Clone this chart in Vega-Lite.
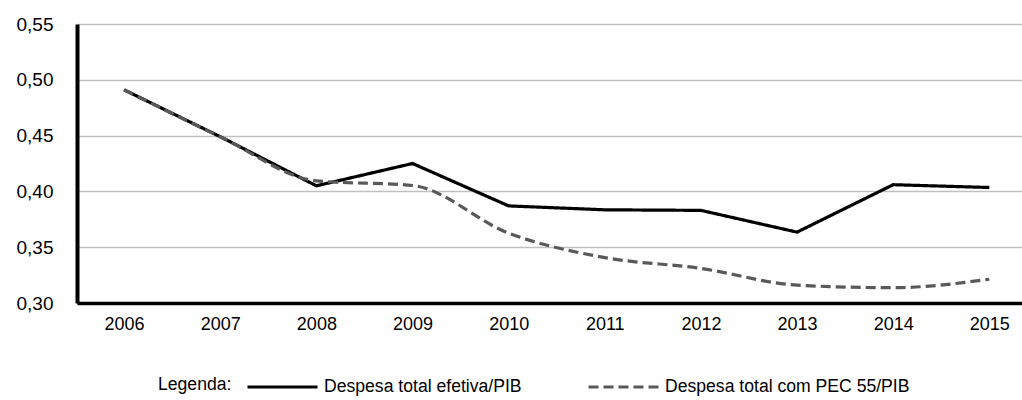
{
  "$schema": "https://vega.github.io/schema/vega-lite/v6.json",
  "width": 945,
  "height": 279,
  "padding": {"left": 77, "top": 24, "right": 0, "bottom": 97},
  "autosize": {"type": "none"},
  "background": "white",
  "config": {
    "view": {"stroke": null},
    "font": "Liberation Sans",
    "axis": {"labelFont": "Liberation Sans", "labelFontSize": 18, "labelColor": "#000000", "ticks": false, "title": null},
    "legend": {"labelFont": "Liberation Sans", "titleFont": "Liberation Sans"}
  },
  "data": {
    "values": [
      {"ano": 2006, "serie": "Despesa total efetiva/PIB", "valor": 0.491},
      {"ano": 2007, "serie": "Despesa total efetiva/PIB", "valor": 0.449},
      {"ano": 2008, "serie": "Despesa total efetiva/PIB", "valor": 0.405},
      {"ano": 2009, "serie": "Despesa total efetiva/PIB", "valor": 0.425},
      {"ano": 2010, "serie": "Despesa total efetiva/PIB", "valor": 0.387},
      {"ano": 2011, "serie": "Despesa total efetiva/PIB", "valor": 0.3835},
      {"ano": 2012, "serie": "Despesa total efetiva/PIB", "valor": 0.383},
      {"ano": 2013, "serie": "Despesa total efetiva/PIB", "valor": 0.3635},
      {"ano": 2014, "serie": "Despesa total efetiva/PIB", "valor": 0.406},
      {"ano": 2015, "serie": "Despesa total efetiva/PIB", "valor": 0.4035},
      {"ano": 2006, "serie": "Despesa total com PEC 55/PIB", "valor": 0.491},
      {"ano": 2007, "serie": "Despesa total com PEC 55/PIB", "valor": 0.449},
      {"ano": 2008, "serie": "Despesa total com PEC 55/PIB", "valor": 0.4095},
      {"ano": 2009, "serie": "Despesa total com PEC 55/PIB", "valor": 0.4053},
      {"ano": 2010, "serie": "Despesa total com PEC 55/PIB", "valor": 0.3626},
      {"ano": 2011, "serie": "Despesa total com PEC 55/PIB", "valor": 0.3407},
      {"ano": 2012, "serie": "Despesa total com PEC 55/PIB", "valor": 0.331},
      {"ano": 2013, "serie": "Despesa total com PEC 55/PIB", "valor": 0.316},
      {"ano": 2014, "serie": "Despesa total com PEC 55/PIB", "valor": 0.3137},
      {"ano": 2015, "serie": "Despesa total com PEC 55/PIB", "valor": 0.3213}
    ]
  },
  "encoding": {
    "x": {
      "field": "ano", "type": "quantitative",
      "scale": {"domain": [2005.51, 2015.34], "nice": false, "zero": false},
      "axis": {"values": [2006, 2007, 2008, 2009, 2010, 2011, 2012, 2013, 2014, 2015], "format": "d", "grid": false, "domainColor": "#000000", "domainWidth": 3.5, "labelPadding": 12, "labelFlush": false, "labelFontSize": 18, "labelFont": "Liberation Sans", "labelColor": "#000000"}
    },
    "y": {
      "field": "valor", "type": "quantitative",
      "scale": {"domain": [0.30, 0.55], "nice": false, "zero": false},
      "axis": {"values": [0.30, 0.35, 0.40, 0.45, 0.50, 0.55], "labelExpr": "replace(format(datum.value, '.2f'), '.', ',')", "grid": true, "gridColor": "#c0c0c0", "gridWidth": 1.5, "domainColor": "#000000", "domainWidth": 4, "labelPadding": 24, "labelFontSize": 19, "labelFont": "Liberation Sans", "labelColor": "#000000"}
    },
    "color": {
      "field": "serie", "type": "nominal",
      "scale": {"domain": ["Despesa total efetiva/PIB", "Despesa total com PEC 55/PIB"], "range": ["#000000", "#595959"]},
      "legend": {
        "title": "Legenda:", "titleOrient": "left", "titleAnchor": "start", "titleBaseline": "line-top", "titleLineHeight": 70, "titleFontSize": 17.6, "titleFontWeight": "normal", "titleColor": "#000000", "titlePadding": 14,
        "orient": "none", "legendX": 81, "legendY": 326, "direction": "horizontal",
        "symbolType": "stroke", "symbolSize": 4900, "symbolStrokeWidth": 3,
        "labelFontSize": 17.6, "labelColor": "#000000", "labelOffset": 5, "columnPadding": 60, "labelLimit": 400
      }
    },
    "strokeDash": {
      "field": "serie", "type": "nominal",
      "scale": {"domain": ["Despesa total efetiva/PIB", "Despesa total com PEC 55/PIB"], "range": [[1, 0], [10, 5]]},
      "legend": {
        "title": "Legenda:", "titleOrient": "left", "titleAnchor": "start", "titleBaseline": "line-top", "titleLineHeight": 70, "titleFontSize": 17.6, "titleFontWeight": "normal", "titleColor": "#000000", "titlePadding": 14,
        "orient": "none", "legendX": 81, "legendY": 326, "direction": "horizontal",
        "symbolType": "stroke", "symbolSize": 4900, "symbolStrokeWidth": 3,
        "labelFontSize": 17.6, "labelColor": "#000000", "labelOffset": 5, "columnPadding": 60, "labelLimit": 400
      }
    }
  },
  "layer": [
    {
      "transform": [{"filter": "datum.serie == 'Despesa total efetiva/PIB'"}],
      "mark": {"type": "line", "strokeWidth": 3.2, "interpolate": "linear"}
    },
    {
      "transform": [{"filter": "datum.serie == 'Despesa total com PEC 55/PIB'"}],
      "mark": {"type": "line", "strokeWidth": 3.2, "interpolate": "monotone"}
    }
  ]
}
